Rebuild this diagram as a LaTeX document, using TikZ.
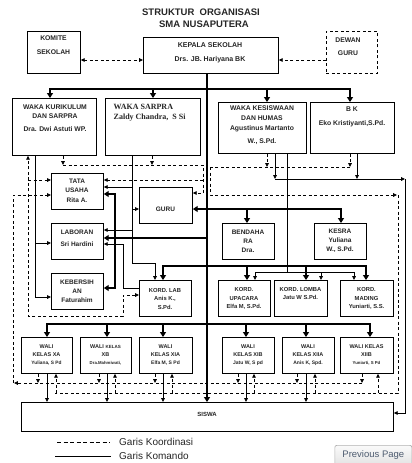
\documentclass[tikz,border=0pt]{standalone}
\usepackage{fontspec}
\setmainfont{Liberation Sans}
\newfontfamily\serifT{Liberation Serif}
\usetikzlibrary{arrows.meta}
\newcommand\fsz[2]{\fontsize{#1}{#2}\selectfont}
\tikzset{
 bx/.style={draw, line width=0.8pt, fill=white, inner sep=0, anchor=north west},
 thn/.style={line width=0.7pt},
 thk/.style={line width=2.5pt},
 dsh/.style={line width=0.7pt, dash pattern=on 3pt off 2.5pt},
 ar/.style={-{Triangle[width=3.6pt,length=3.8pt]}},
 arb/.style={{Triangle[width=3.6pt,length=3.8pt]}-{Triangle[width=3.6pt,length=3.8pt]}},
 tar/.style={-{Triangle[width=5.8pt,length=4.8pt]}},
 tarb/.style={{Triangle[width=5.8pt,length=4.8pt]}-{Triangle[width=5.8pt,length=4.8pt]}},
 tx/.style={align=center, inner sep=0, text=black!85}
}
\begin{document}
\begin{tikzpicture}[x=1pt,y=-1pt]
\useasboundingbox (0,0) rectangle (412,463);
\fill[white] (0,0) rectangle (412,463);

% ---------- boxes ----------
\node[bx, minimum width=53pt, minimum height=42pt] (komite) at (27,31) {};
\node[bx, minimum width=135pt, minimum height=36pt] (kepala) at (143,37) {};
\node[bx, dsh, line width=0.8pt, minimum width=51pt, minimum height=42pt] (dewan) at (326,31) {};
\node[bx, minimum width=84pt, minimum height=57pt] (kur) at (12,98) {};
\node[bx, minimum width=95pt, minimum height=57pt] (sar) at (105,98) {};
\node[bx, minimum width=88pt, minimum height=51pt] (kes) at (218,102) {};
\node[bx, minimum width=84pt, minimum height=51pt] (bk) at (310,102) {};
\node[bx, minimum width=52pt, minimum height=36pt] (tata) at (51,173) {};
\node[bx, minimum width=53pt, minimum height=36pt] (guru) at (139,187) {};
\node[bx, minimum width=52pt, minimum height=36pt] (lab) at (51,223) {};
\node[bx, minimum width=52pt, minimum height=36pt] (keber) at (51,273) {};
\node[bx, minimum width=52pt, minimum height=36pt] (bend) at (222,223) {};
\node[bx, minimum width=52pt, minimum height=36pt] (kesra) at (314,223) {};
\node[bx, minimum width=52pt, minimum height=36pt] (kordlab) at (139,280) {};
\node[bx, minimum width=52pt, minimum height=36pt] (upac) at (218,280) {};
\node[bx, minimum width=53pt, minimum height=36pt] (lomba) at (274,280) {};
\node[bx, minimum width=53pt, minimum height=36pt] (mading) at (340,280) {};
\node[bx, minimum width=51pt, minimum height=36pt] (wxa) at (21,337) {};
\node[bx, minimum width=51pt, minimum height=36pt] (wxb) at (80,337) {};
\node[bx, minimum width=53pt, minimum height=36pt] (wxia) at (139,337) {};
\node[bx, minimum width=52pt, minimum height=36pt] (wxib) at (222,337) {};
\node[bx, minimum width=52pt, minimum height=36pt] (wxiia) at (282,337) {};
\node[bx, minimum width=53pt, minimum height=36pt] (wxiib) at (340,337) {};
\node[bx, minimum width=372pt, minimum height=29pt] (siswa) at (21,402) {};

% ---------- texts ----------
\node[tx, font=\bfseries\fsz{9.5}{12}] (title) at (201,18) {STRUKTUR\ \ ORGANISASI\\\hspace*{6pt}SMA NUSAPUTERA};
\node[tx, font=\bfseries\fsz{6.8}{14}] (komiteT) at (53.5,45) {KOMITE\\SEKOLAH};
\node[tx, font=\bfseries\fsz{7}{14}] (kepalaT) at (210,53) {KEPALA SEKOLAH\\Drs. JB. Hariyana BK};
\node[tx, font=\bfseries\fsz{6.8}{13}] (dewanT) at (348,46.5) {DEWAN\\GURU};
\node[tx, font=\bfseries\fsz{6.8}{9.2}] (kurT) at (55,118) {WAKA KURIKULUM\\DAN SARPRA\\[3.5pt]Dra. Dwi Astuti WP.};
\node[tx, align=left, anchor=north west, font=\serifT\bfseries\fsz{8}{10}] (sarT) at (113.5,104) {WAKA SARPRA\\Zaldy Chandra,\ \ S Si};
\node[tx, font=\bfseries\fsz{6.8}{10}] (kesT) at (262,125.5) {WAKA KESISWAAN\\DAN HUMAS\\Agustinus Martanto\\[3pt]W., S.Pd.};
\node[tx, font=\bfseries\fsz{6.8}{14}] (bkT) at (352,117) {B K\\Eko Kristiyanti,S.Pd.};
\node[tx, font=\bfseries\fsz{6.5}{9.5}] (tataT) at (77,190.5) {TATA\\USAHA\\Rita A.};
\node[tx, font=\bfseries\fsz{6.5}{8}] (guruT) at (165.5,209) {GURU};
\node[tx, font=\bfseries\fsz{6.5}{12}] (labT) at (77,238) {LABORAN\\Sri Hardini};
\node[tx, font=\bfseries\fsz{6.5}{9}] (keberT) at (77,291) {KEBERSIH\\AN\\Faturahim};
\node[tx, font=\bfseries\fsz{6.5}{9}] (bendT) at (248,241) {BENDAHA\\RA\\Dra.};
\node[tx, font=\bfseries\fsz{6.5}{9}] (kesraT) at (340,241) {KESRA\\Yuliana\\W., S.Pd.};
\node[tx, font=\bfseries\fsz{5.8}{8.5}] (kordlabT) at (165,298.5) {KORD. LAB\\Anis K.,\\S.Pd.};
\node[tx, font=\bfseries\fsz{5.8}{8.5}] (upacT) at (244,298.5) {KORD.\\UPACARA\\Elfa M, S.Pd.};
\node[tx, font=\bfseries\fsz{5.8}{7.5}] (lombaT) at (300.5,293.5) {KORD. LOMBA\\Jatu W S.Pd.};
\node[tx, font=\bfseries\fsz{5.8}{8.5}] (madingT) at (366.5,298.5) {KORD.\\MADING\\Yuniarti, S.S.};
\node[tx, font=\bfseries\fsz{5.5}{7.8}] (wxaT) at (46.5,355) {WALI\\KELAS XA\\{\fsz{4.8}{7.8}Yuliana, S Pd}};
\node[tx, font=\bfseries\fsz{5.5}{7.8}] (wxbT) at (105.5,355) {WALI {\fsz{4.5}{5.5}KELAS}\\XB\\{\fsz{4.3}{7.8}Dra.Mahmiwati,}};
\node[tx, font=\bfseries\fsz{5.5}{7.8}] (wxiaT) at (165.5,355) {WALI\\KELAS XIA\\{\fsz{5}{7.8}Elfa M, S Pd}};
\node[tx, font=\bfseries\fsz{5.5}{7.8}] (wxibT) at (248,355) {WALI\\KELAS XIB\\{\fsz{5}{7.8}Jatu W, S pd}};
\node[tx, font=\bfseries\fsz{5.5}{7.8}] (wxiiaT) at (308,355) {WALI\\KELAS XIIA\\{\fsz{5}{7.8}Anis K, Spd.}};
\node[tx, font=\bfseries\fsz{5.5}{7.8}] (wxiibT) at (366.5,355) {WALI KELAS\\XIIB\\{\fsz{4.3}{7.8}Yuniarti, S Pd}};
\node[tx, font=\bfseries\fsz{6}{7}] (siswaT) at (207,414) {SISWA};

% ---------- top connectors ----------
\draw[dsh,arb] (komite.east |- 0,60) -- (kepala.west |- 0,60);
\draw[dsh,ar] (dewan.west |- 0,60) -- (kepala.east |- 0,60);
\draw[thk,tar] (207,0 |- kepala.south) -- (207,0 |- siswa.north);
\coordinate (jtop) at (207,89);
\draw[thk,tar] (jtop) -| (50,0 |- kur.north);
\draw[thk,tar] (jtop) -| (153,0 |- sar.north);
\draw[thk,tar] (jtop) -| (267,0 |- kes.north);
\draw[thk,tar] (jtop) -| (350,0 |- bk.north);

% ---------- left system ----------
\draw[dsh,arb] (kordlab.west |- 0,295) -| (123,316) -| (28,0 |- kur.south);
\draw[dsh,ar] (28,180) -- (tata.west |- 0,180);
\draw[thn,ar] (35,0 |- kur.south) |- (keber.west |- 0,297);
\draw[thn,ar] (35,243) -- (lab.west |- 0,243);
\draw[dsh,ar] (63,0 |- kur.south) -- (63,165);
\draw[dsh,ar] (152,0 |- sar.south) -- (152,165);
\draw[dsh,ar] (63,165) -| (203,193) -- (guru.east |- 0,193);
\draw[dsh,ar] (203,180) -- (tata.east |- 0,180);
\draw[thn,ar] (132,0 |- sar.south) |- (155,263) -- (155,0 |- kordlab.north);
\draw[thn,ar] (132,187) -- (tata.east |- 0,187);
\draw[thn,ar] (132,209) -- (guru.west |- 0,209);
\draw[thn,ar] (132,230) -- (lab.east |- 0,230);
\draw[thk,tar] (207,238) -- (lab.east |- 0,238);
\draw[thk,tarb] (tata.east |- 0,194) -| (115,240) |- (keber.east |- 0,288);
\draw[thn,ar] (kordlab.west |- 0,288) -| (123,244) -- (lab.east |- 0,244);

% ---------- guru / bendahara / kesra ----------
\draw[thk,tar] (207,209) -- (guru.east |- 0,209);
\draw[thk,tar] (207,209) -| (341,0 |- kesra.north);
\draw[thk,tar] (247,209) -- (247,0 |- bend.north);

% ---------- kord row ----------
\draw[thk,tar] (207,266) -| (163,0 |- kordlab.north);
\draw[thk,tar] (207,266) -| (366,0 |- mading.north);
\draw[thk,tar] (247,266) -- (247,0 |- upac.north);
\draw[thk,tar] (306,266) -- (306,0 |- lomba.north);
\draw[thn,ar] (287,0 |- kes.south) |- (255,272) -- (255,0 |- upac.north);
\draw[thn,ar] (287,272) -| (354,0 |- mading.north);
\draw[thn,ar] (321,272) -- (321,0 |- lomba.north);

% ---------- right system ----------
\draw[dsh,ar] (267,0 |- kes.south) -- (267,167);
\draw[dsh,ar] (350,0 |- bk.south) -- (350,167);
\draw[dsh] (350,167) -- (210,167);
\draw[dsh,ar] (210,167) |- (397,195);
\draw[dsh] (398,195) -- (398,393) -- (55,393);
\draw[thn,ar] (275,0 |- kes.south) -- (275,179);
\draw[thn,ar] (357,0 |- bk.south) -- (357,179);
\draw[thn,ar] (275,179) -- (405,179);
\draw[thn,ar] (405,179) |- (siswa.east |- 0,413);

% ---------- wali row ----------
\draw[thk,tar] (207,324) -| (47,0 |- wxa.north);
\draw[thk,tar] (207,324) -| (370,0 |- wxiib.north);
\foreach \x/\w in {107/wxb,163/wxia,246/wxib,306/wxiia}
  \draw[thk,tar] (\x,324) -- (\x,0 |- \w.north);
\foreach \x/\w in {47/wxa,107/wxb,163/wxia,246/wxib,306/wxiia}
  \draw[thn,ar] (\x,0 |- \w.south) -- (\x,0 |- siswa.north);
\foreach \x/\w in {38/wxa,99/wxb,155/wxia,238/wxib,297/wxiia,362/wxiib}
  \draw[dsh,ar] (\x,0 |- \w.south) -- (\x,383);
\foreach \x/\w in {56/wxa,115/wxb,172/wxia,254/wxib,315/wxiia,378/wxiib}
  \draw[dsh,ar] (\x,393) -- (\x,0 |- \w.south);
\draw[dsh,ar] (362,383) -- (14,383);
\draw[dsh,ar] (13,383) |- (tata.west |- 0,195);

% ---------- legend ----------
\coordinate (lk1) at (57,442); \coordinate (lk2) at (110,442);
\coordinate (lc1) at (55,456); \coordinate (lc2) at (111,456);
\draw[dsh, line width=0.8pt, dash pattern=on 4pt off 2.5pt] (lk1) -- (lk2);
\draw[line width=0.9pt] (lc1) -- (lc2);
\node[anchor=west, inner sep=0, font=\fsz{10}{12}, text=black!85] (legK) at (119,442) {Garis Koordinasi};
\node[anchor=west, inner sep=0, font=\fsz{10}{12}, text=black!85] (legC) at (119,455.5) {Garis Komando};

% ---------- button ----------
\node[draw=gray!60, top color=gray!4, bottom color=gray!22, rounded corners=2pt, line width=0.7pt,
      minimum width=77pt, minimum height=20pt, anchor=north west, inner sep=0,
      font=\fsz{9.5}{11}, text={rgb,255:red,78;green,92;blue,112}] (prev) at (334.5,445) {Previous Page};
\end{tikzpicture}
\end{document}
